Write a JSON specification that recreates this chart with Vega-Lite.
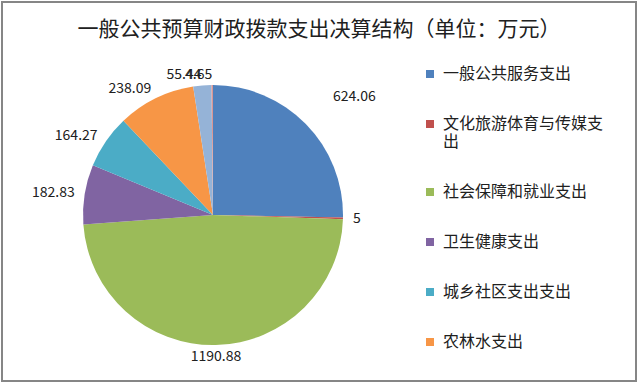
{
  "$schema": "https://vega.github.io/schema/vega-lite/v6.json",
  "width": 634,
  "height": 379,
  "padding": 2,
  "autosize": {"type": "none"},
  "background": "white",
  "view": {"stroke": "#868686", "strokeWidth": 2},
  "config": {
    "font": "Noto Sans CJK SC"
  },
  "title": {
    "text": "一般公共预算财政拨款支出决算结构（单位：万元）",
    "anchor": "middle",
    "frame": "group",
    "orient": "top",
    "offset": -38,
    "fontSize": 21,
    "fontWeight": "normal",
    "color": "#202020",
    "font": "Noto Sans CJK SC"
  },
  "data": {
    "values": [
      {"i": 1, "name": "一般公共服务支出", "value": 624.06},
      {"i": 2, "name": "文化旅游体育与传媒支出", "value": 5},
      {"i": 3, "name": "社会保障和就业支出", "value": 1190.88},
      {"i": 4, "name": "卫生健康支出", "value": 182.83},
      {"i": 5, "name": "城乡社区支出支出", "value": 164.27},
      {"i": 6, "name": "农林水支出", "value": 238.09},
      {"i": 7, "name": "交通运输支出", "value": 55.44},
      {"i": 8, "name": "其他支出", "value": 4.65}
    ]
  },
  "encoding": {
    "theta": {"field": "value", "type": "quantitative", "stack": true},
    "order": {"field": "i", "type": "quantitative"}
  },
  "layer": [
    {
      "mark": {"type": "arc", "outerRadius": 130, "xOffset": -106, "yOffset": 23.5, "strokeWidth": 0},
      "encoding": {
        "color": {
          "field": "name",
          "type": "nominal",
          "scale": {
            "domain": ["一般公共服务支出", "文化旅游体育与传媒支出", "社会保障和就业支出", "卫生健康支出", "城乡社区支出支出", "农林水支出", "交通运输支出", "其他支出"],
            "range": ["#4F81BD", "#C0504D", "#9BBB59", "#8064A2", "#4BACC6", "#F79646", "#95B3D7", "#D99694"]
          },
          "legend": {
            "orient": "none",
            "legendX": 420,
            "legendY": 64,
            "title": null,
            "values": ["一般公共服务支出", "文化旅游体育与传媒支出", "社会保障和就业支出", "卫生健康支出", "城乡社区支出支出", "农林水支出"],
            "symbolType": "square",
            "symbolSize": 64,
            "symbolStrokeWidth": 0,
            "labelFontSize": 16,
            "labelColor": "#202020",
            "labelFont": "Noto Sans CJK SC",
            "labelLimit": 300,
            "labelLineHeight": 17,
            "rowPadding": 34,
            "labelOffset": 5,
            "labelExpr": "datum.label == '文化旅游体育与传媒支出' ? ['文化旅游体育与传媒支', '出'] : datum.label"
          }
        }
      }
    },
    {
      "mark": {"type": "text", "radius": 168, "align": "left", "baseline": "middle", "xOffset": -106, "yOffset": 23.5, "fontSize": 14, "fill": "#202020"},
      "encoding": {"text": {"condition": {"test": "datum.i == 1", "field": "value", "type": "quantitative", "format": "~r"}, "value": ""}}
    },
    {
      "mark": {"type": "text", "radius": 140, "align": "left", "baseline": "middle", "xOffset": -106, "yOffset": 23.5, "fontSize": 14, "fill": "#202020"},
      "encoding": {"text": {"condition": {"test": "datum.i == 2", "field": "value", "type": "quantitative", "format": "~r"}, "value": ""}}
    },
    {
      "mark": {"type": "text", "radius": 142, "align": "center", "baseline": "middle", "xOffset": -106, "yOffset": 23.5, "fontSize": 14, "fill": "#202020"},
      "encoding": {"text": {"condition": {"test": "datum.i == 3", "field": "value", "type": "quantitative", "format": "~r"}, "value": ""}}
    },
    {
      "mark": {"type": "text", "radius": 140, "align": "right", "baseline": "middle", "xOffset": -106, "yOffset": 23.5, "fontSize": 14, "fill": "#202020"},
      "encoding": {"text": {"condition": {"test": "datum.i >= 4", "field": "value", "type": "quantitative", "format": "~r"}, "value": ""}}
    }
  ]
}
